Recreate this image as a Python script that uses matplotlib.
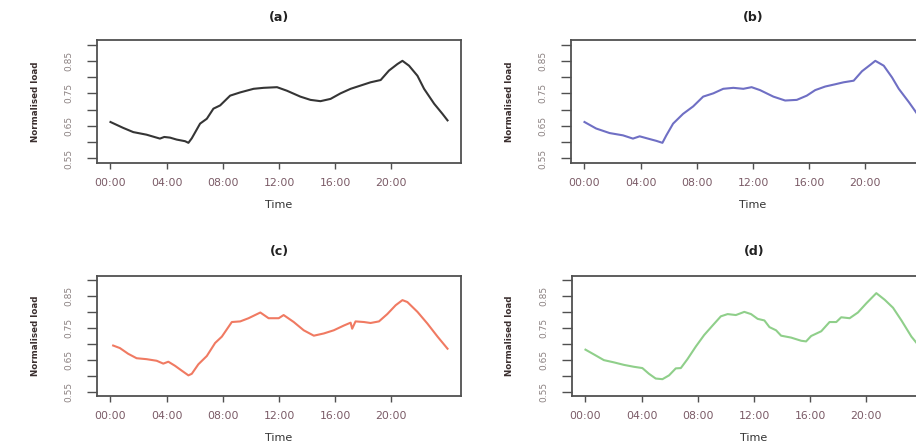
import matplotlib
matplotlib.use("Agg")
import matplotlib.pyplot as plt

# ---- data (hours since midnight, normalised load) ----
hours_a = [0.0, 0.90, 1.62, 2.57, 3.52, 3.83, 4.24, 4.71, 5.31, 5.55, 5.79, 6.38, 6.86, 7.33,
           7.81, 8.52, 9.24, 10.19, 10.90, 11.86, 12.57, 13.52, 14.24, 14.95, 15.67, 16.38,
           17.10, 17.81, 18.52, 19.24, 19.83, 20.43, 20.79, 21.26, 21.86, 22.33, 23.05, 23.64, 24.0]
load_a = [0.662, 0.644, 0.631, 0.623, 0.611, 0.616, 0.614, 0.608, 0.603, 0.598, 0.612, 0.657,
          0.672, 0.703, 0.713, 0.743, 0.753, 0.764, 0.767, 0.769, 0.758, 0.740, 0.730, 0.726,
          0.733, 0.750, 0.764, 0.774, 0.784, 0.791, 0.820, 0.840, 0.850, 0.835, 0.804, 0.764,
          0.718, 0.687, 0.667]

hours_b = [0.0, 0.83, 1.79, 2.74, 3.45, 3.93, 4.52, 5.12, 5.55, 5.83, 6.31, 7.02, 7.74, 8.45,
           9.17, 9.88, 10.60, 11.31, 11.90, 12.50, 13.45, 14.29, 15.12, 15.83, 16.43, 17.14,
           17.86, 18.45, 19.17, 19.76, 20.36, 20.71, 21.31, 21.90, 22.38, 23.10, 23.69, 24.0]
load_b = [0.662, 0.642, 0.628, 0.621, 0.611, 0.618, 0.611, 0.604, 0.598, 0.621, 0.657, 0.687,
          0.710, 0.740, 0.750, 0.764, 0.767, 0.764, 0.769, 0.760, 0.740, 0.728, 0.730, 0.743,
          0.760, 0.771, 0.778, 0.784, 0.789, 0.818, 0.838, 0.850, 0.835, 0.799, 0.764, 0.723,
          0.687, 0.667]

hours_c = [0.19, 0.67, 1.26, 1.86, 2.57, 3.29, 3.76, 4.12, 4.60, 5.07, 5.55, 5.79, 6.26, 6.86,
           7.45, 7.93, 8.64, 9.24, 9.83, 10.67, 11.26, 11.98, 12.33, 13.05, 13.76, 14.48, 15.19,
           15.90, 16.62, 17.10, 17.21, 17.45, 18.05, 18.52, 19.12, 19.71, 20.31, 20.79, 21.14,
           21.86, 22.57, 23.29, 24.0]
load_c = [0.695, 0.687, 0.669, 0.655, 0.652, 0.647, 0.638, 0.644, 0.631, 0.616, 0.601, 0.606,
          0.636, 0.662, 0.703, 0.723, 0.769, 0.771, 0.781, 0.799, 0.781, 0.781, 0.791, 0.769,
          0.743, 0.726, 0.733, 0.743, 0.758, 0.767, 0.748, 0.771, 0.769, 0.766, 0.771, 0.794,
          0.822, 0.838, 0.832, 0.801, 0.764, 0.723, 0.685]

hours_d = [0.0, 0.60, 1.31, 2.02, 2.74, 3.45, 4.05, 4.52, 5.00, 5.48, 5.95, 6.43, 6.79, 7.26,
           7.86, 8.45, 9.05, 9.64, 10.12, 10.71, 11.31, 11.79, 12.26, 12.74, 13.10, 13.57, 13.93,
           14.64, 15.36, 15.71, 16.07, 16.79, 17.38, 17.86, 18.21, 18.81, 19.40, 20.00, 20.71,
           21.31, 21.90, 22.50, 23.21, 23.69, 24.0]
load_d = [0.682, 0.667, 0.649, 0.642, 0.634, 0.628, 0.624, 0.606, 0.591, 0.589, 0.601, 0.623,
          0.624, 0.652, 0.692, 0.728, 0.758, 0.787, 0.794, 0.791, 0.801, 0.794, 0.779, 0.774,
          0.753, 0.743, 0.726, 0.720, 0.710, 0.708, 0.725, 0.740, 0.769, 0.769, 0.784, 0.781,
          0.799, 0.828, 0.860, 0.839, 0.814, 0.774, 0.723, 0.697, 0.680]

panel_titles = ["(a)", "(b)", "(c)", "(d)"]
line_colors = ["#353535", "#6f6fc4", "#f07a62", "#8fcf8a"]
x_ticks = [0, 4, 8, 12, 16, 20]
x_ticklabels = ["00:00", "04:00", "08:00", "12:00", "16:00", "20:00"]
y_ticks = [0.55, 0.60, 0.65, 0.70, 0.75, 0.80, 0.85, 0.90]
y_ticklabels = ["0.55", "", "0.65", "", "0.75", "", "0.85", ""]
x_label = "Time"
y_label = "Normalised load"

W, H = 916, 448
fig = plt.figure(figsize=(W / 100, H / 100), dpi=100)
fig.patch.set_facecolor("white")

# axes boxes in pixels: (left, top, right, bottom)
boxes = [(97, 40, 461, 163), (571, 40, 935, 163),
         (97, 276, 461, 396), (572, 276, 936, 396)]
title_y = [17, 17, 251, 251]
series = [(hours_a, load_a), (hours_b, load_b), (hours_c, load_c), (hours_d, load_d)]

for (l, t, r, b), ty, (hx, hy), title, col in zip(boxes, title_y, series, panel_titles, line_colors):
    ax = fig.add_axes([l / W, (H - b) / H, (r - l) / W, (b - t) / H])
    ax.plot(hx, hy, color=col, lw=1.5, solid_joinstyle="round")
    ax.set_xlim(-0.96, 24.96)
    ax.set_ylim(0.536, 0.914)
    for s in ax.spines.values():
        s.set_color("#505050")
        s.set_linewidth(1.3)
    ax.set_xticks(x_ticks)
    ax.set_xticklabels(x_ticklabels, fontsize=7.8, color="#7a5a66", family="DejaVu Sans")
    ax.set_yticks(y_ticks)
    ax.set_yticklabels(y_ticklabels, fontsize=6.5, color="#8a8080",
                       family=["Liberation Sans Narrow", "DejaVu Sans"],
                       rotation=90, va="center")
    ax.tick_params(axis="x", length=4, width=1.0, color="#505050", pad=7)
    ax.tick_params(axis="y", length=7, width=1.0, color="#505050", pad=10)
    cx = (l + r) / 2
    fig.text(cx / W, 1 - ty / H, title,
             ha="center", va="center", fontsize=9, fontweight="bold", color="#222222")
    fig.text(cx / W, 1 - (b + 42) / H, x_label, ha="center", va="center",
             fontsize=8, color="#333333")
    fig.text((l - 62) / W, 1 - ((t + b) / 2) / H, y_label, rotation=90,
             ha="center", va="center", fontsize=6.3, color="#3a2e2e",
             family=["Liberation Sans Narrow", "DejaVu Sans"], fontweight="bold")

fig.savefig("out.png", dpi=100, facecolor="white")
